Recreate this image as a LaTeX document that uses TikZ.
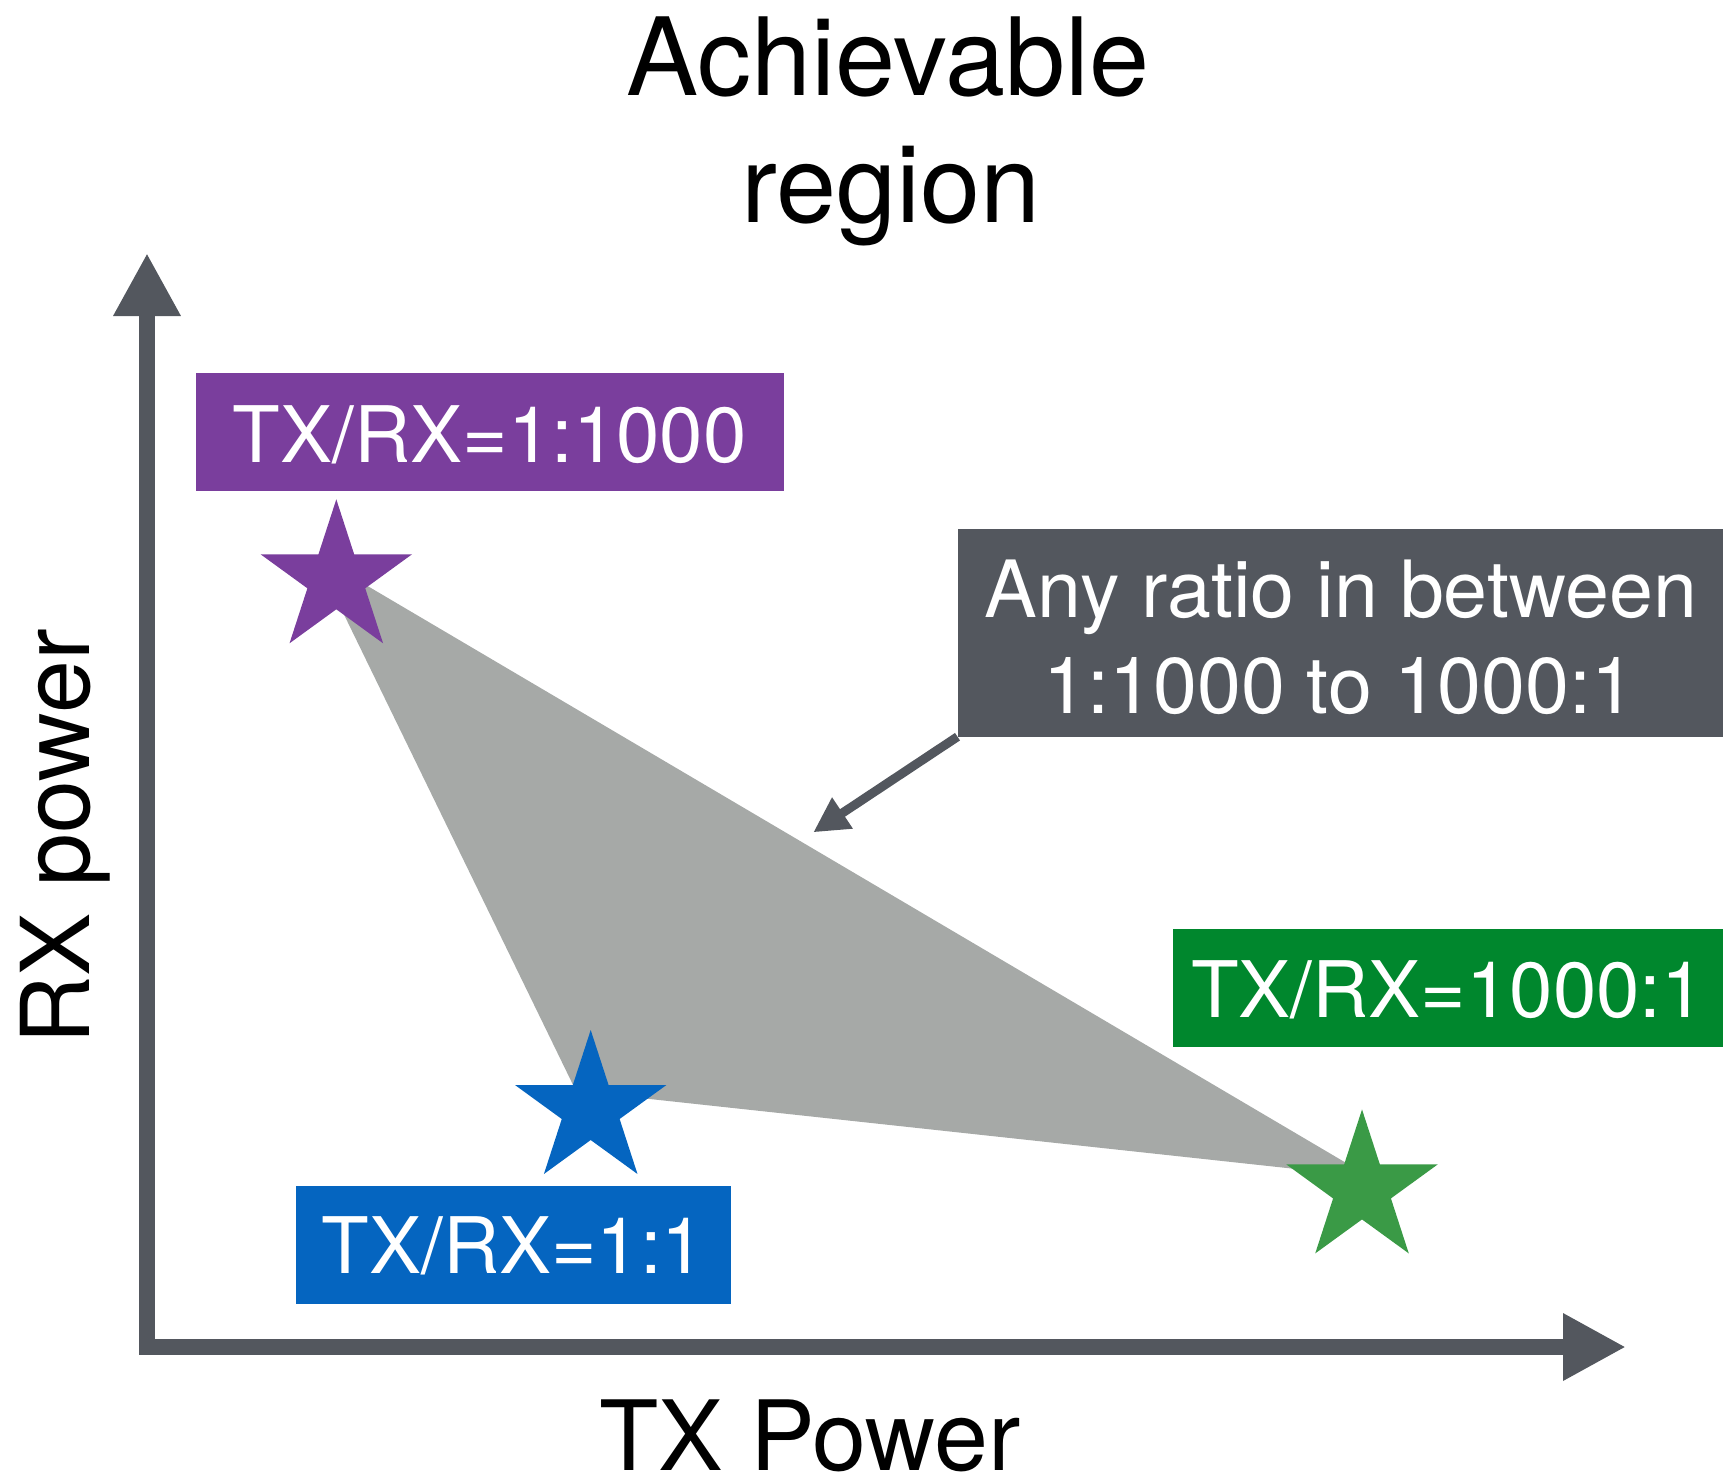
\documentclass[tikz,border=0pt]{standalone}
\usepackage{fontspec}
\setmainfont{TeX Gyre Heros}
\usetikzlibrary{arrows.meta,shapes.geometric}

\definecolor{axisgray}{HTML}{53575E}
\definecolor{regiongray}{HTML}{A6A9A7}
\definecolor{lowpurple}{HTML}{7A3E9D}
\definecolor{evenblue}{HTML}{0565C0}
\definecolor{highgreen}{HTML}{00872D}
\definecolor{stargreen}{HTML}{3A9A46}

\begin{document}
\begin{tikzpicture}[x=1pt,y=-1pt,
  labelbox/.style={fill=#1, text=white, inner sep=0pt, outer sep=0pt,
    font=\fontsize{78}{94}\selectfont, text depth=0pt},
  starmark/.style={star, star points=5, star point ratio=2.618,
    minimum size=159.2pt, inner sep=0pt, fill=#1, draw=none},
  axistext/.style={text=black, inner sep=0pt},
  anntext/.style={text=white, inner sep=0pt, font=\fontsize{79}{96}\selectfont},
  pointer/.style={draw=axisgray, line width=9pt,
    -{Triangle[length=35pt,width=35pt]}},
  axisline/.style={draw=axisgray, line width=16pt, line join=miter,
    {Triangle[length=63pt,width=63pt]}-{Triangle[length=63pt,width=63pt]}}
]
\useasboundingbox (0,0) rectangle (1723,1476);

% title
\node[axistext, anchor=base, font=\fontsize{108}{128}\selectfont] (title1) at (888,95) {Achievable};
\node[axistext, anchor=base, font=\fontsize{108}{128}\selectfont] (title2) at (891,222.7) {region};

% achievable region between the three operating points
\coordinate (pv) at (315,555);
\coordinate (bv) at (576,1091);
\coordinate (gv) at (1370,1177);
\fill[regiongray] (pv) -- (bv) -- (gv) -- cycle;

% operating points
\node[starmark=lowpurple] (slow) at (336.3,578.9) {};
\node[starmark=evenblue] (seven) at (590.7,1109.6) {};
\node[starmark=stargreen] (shigh) at (1362,1189) {};

% ratio labels
\node[labelbox=lowpurple, minimum width=588.4pt, minimum height=117.4pt, text height=60.6pt]
  (lablow) at (489.8,432) {TX/RX=1:1000};
\node[labelbox=evenblue, minimum width=435pt, minimum height=117.7pt, text height=56.8pt]
  (labeven) at (513.5,1244.9) {TX/RX=1:1};
\node[labelbox=highgreen, minimum width=550.3pt, minimum height=117.4pt, text height=58.6pt]
  (labhigh) at (1447.9,988) {TX/RX=1000:1};

% annotation
\node[fill=axisgray, inner sep=0pt, outer sep=0pt, minimum width=765.5pt, minimum height=207.7pt]
  (annbox) at (1340.25,632.85) {};
\node[anntext, anchor=base] (ann1) at (1341,617.3) {Any ratio in between};
\node[anntext, anchor=base] (ann2) at (1339.5,713.3) {1:1000 to 1000:1};
\coordinate (anntip) at (813.3,832.3);
\draw[pointer] (annbox.south west) -- (anntip);

% axes
\coordinate (ytip) at (147,253);
\coordinate (origin) at (147,1347);
\coordinate (xtip) at (1626,1347);
\draw[axisline] (ytip) -- (origin) -- (xtip);

\node[axistext, anchor=base, font=\fontsize{97}{116}\selectfont] (xlabel) at (810,1470) {TX Power};
\node[axistext, anchor=base, rotate=90, font=\fontsize{95}{114}\selectfont] (ylabel) at (89.3,837) {RX power};
\end{tikzpicture}
\end{document}
